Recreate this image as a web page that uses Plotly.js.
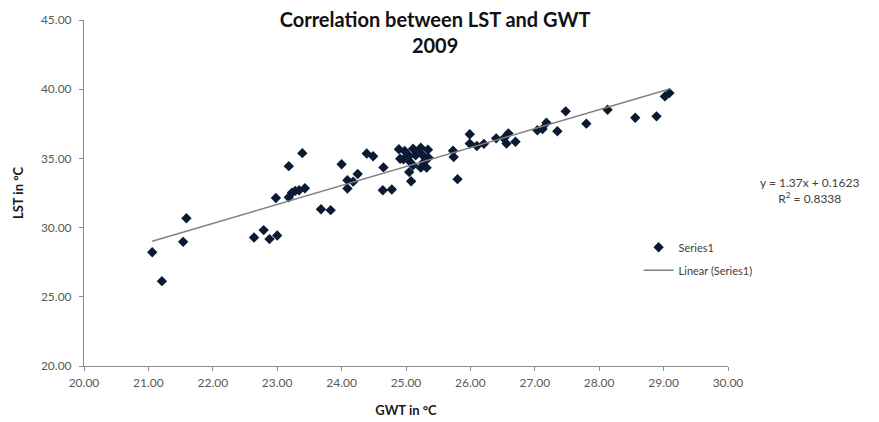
<!DOCTYPE html>
<html>
<head>
<meta charset="utf-8">
<script src="https://cdn.plot.ly/plotly-3.0.1.min.js"></script>
<style>html,body{margin:0;padding:0;background:#fff;}#chart{width:879px;height:422px;}</style>
</head>
<body>
<div id="chart"></div>
<script>
// GWT (x) and LST (y)
var gwt = [21.06, 21.21, 21.54, 21.59, 22.64, 22.79, 22.88, 23.00, 22.98, 23.18,
           23.23, 23.28, 23.34, 23.43, 23.18, 23.39, 23.68, 23.83, 24.00, 24.09,
           24.09, 24.18, 24.25, 24.39, 24.49, 24.65, 24.64, 24.78, 24.89, 24.98,
           24.96, 25.05, 25.11, 25.23, 25.34, 25.15, 25.27, 25.35, 25.04, 25.27,
           25.11, 25.05, 25.23, 25.32, 25.08, 24.91, 25.20, 25.73, 25.74, 25.80,
           25.99, 25.99, 26.10, 26.21, 26.40, 26.52, 26.59, 26.56, 26.70, 27.04,
           27.12, 27.18, 27.35, 27.48, 27.80, 28.13, 28.56, 28.89, 29.02, 29.09];
var lst = [28.22, 26.13, 28.97, 30.68, 29.28, 29.82, 29.17, 29.43, 32.14, 32.19,
           32.53, 32.65, 32.70, 32.84, 34.44, 35.38, 31.33, 31.26, 34.58, 32.82,
           33.42, 33.32, 33.87, 35.35, 35.16, 34.35, 32.70, 32.75, 35.66, 35.53,
           34.93, 35.17, 35.70, 35.77, 35.63, 35.22, 35.17, 35.05, 34.86, 34.70,
           34.50, 34.01, 34.33, 34.33, 33.35, 34.98, 35.45, 35.55, 35.10, 33.50,
           36.75, 36.07, 35.90, 36.05, 36.45, 36.45, 36.81, 36.07, 36.20, 37.03,
           37.12, 37.58, 36.96, 38.40, 37.51, 38.52, 37.94, 38.04, 39.48, 39.72];
// Linear trendline as stated on the chart
var slope = [1.37];
var intercept = [0.1623];
var rSquared = ["0.8338"];
var xTicks = [20, 21, 22, 23, 24, 25, 26, 27, 28, 29, 30];
var yTicks = [20, 25, 30, 35, 40, 45];

var xMin = Math.min.apply(null, gwt), xMax = Math.max.apply(null, gwt);
var trendX = [xMin, xMax];
var trendY = trendX.map(function (v) { return slope[0] * v + intercept[0]; });

var FONT = "Lato, 'Open Sans', sans-serif";
var tickFont = {family: FONT, size: 12, color: '#595959'};

var traces = [
  {
    x: gwt, y: lst, type: 'scatter', mode: 'markers', name: 'Series1',
    legendgroup: 'a',
    marker: {symbol: 'diamond', size: 8, color: '#0b1a33', line: {width: 0}}
  },
  {
    x: trendX, y: trendY, type: 'scatter', mode: 'lines', name: 'Linear (Series1)',
    legendgroup: 'b',
    line: {color: '#808080', width: 1.5}
  }
];

var layout = {
  width: 879, height: 422,
  paper_bgcolor: '#ffffff', plot_bgcolor: '#ffffff',
  margin: {l: 84, r: 151, t: 20, b: 56, pad: 0},
  font: {family: FONT, color: '#404040'},
  title: {
    text: 'Correlation between LST and GWT<br>2009',
    font: {family: FONT, size: 20, color: '#111111', weight: 'bold'},
    x: 0.495, xref: 'container', xanchor: 'center',
    y: 0.935, yref: 'container', yanchor: 'top'
  },
  xaxis: {
    range: [20, 30], tickvals: xTicks,
    ticktext: xTicks.map(function (v) { return v.toFixed(2); }),
    showgrid: false, zeroline: false,
    showline: true, linecolor: '#8c8c8c', linewidth: 1,
    ticks: 'outside', ticklen: 4, tickcolor: '#8c8c8c',
    ticklabelstandoff: 2,
    tickfont: tickFont,
    title: {text: '<b>GWT in °C</b>', font: {family: FONT, size: 13, color: '#1a1a1a'}, standoff: 16}
  },
  yaxis: {
    range: [20, 45], tickvals: yTicks,
    ticktext: yTicks.map(function (v) { return v.toFixed(2); }),
    showgrid: false, zeroline: false,
    showline: true, linecolor: '#8c8c8c', linewidth: 1,
    ticks: 'outside', ticklen: 4, tickcolor: '#8c8c8c',
    ticklabelstandoff: 5,
    tickfont: tickFont,
    title: {text: '<b>LST in °C</b>', font: {family: FONT, size: 13, color: '#1a1a1a'}, standoff: 14}
  },
  showlegend: true,
  legend: {
    x: 757 / 879, xref: 'paper', xanchor: 'left',
    y: 0.385, yanchor: 'top',
    font: {family: FONT, size: 11, color: '#404040'},
    bgcolor: 'rgba(0,0,0,0)', borderwidth: 0,
    traceorder: 'grouped', tracegroupgap: 4, itemwidth: 30
  },
  annotations: [
    {
      text: 'y = ' + slope[0] + 'x + ' + intercept[0] + '<br>R<sup>2</sup> = ' + rSquared[0],
      xref: 'paper', yref: 'paper',
      x: 1 + (809 - 728) / 644, y: (366 - 191) / 346,
      xanchor: 'center', yanchor: 'middle', showarrow: false, align: 'center',
      font: {family: FONT, size: 12, color: '#404040'}
    }
  ]
};

Plotly.newPlot('chart', traces, layout, {displayModeBar: false, staticPlot: true});
</script>
</body>
</html>
